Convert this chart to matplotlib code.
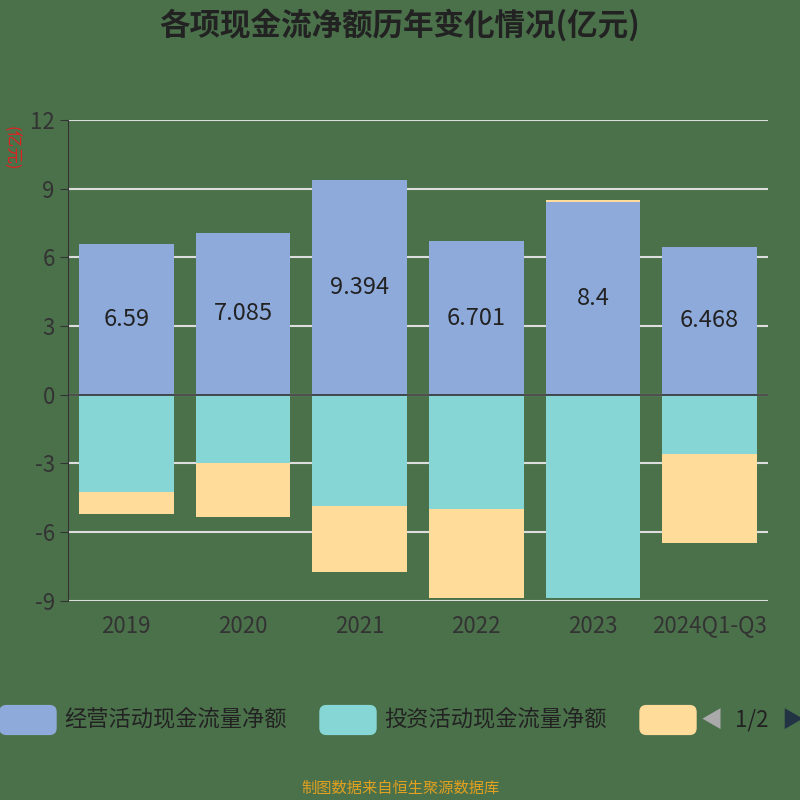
import matplotlib.pyplot as plt
import numpy as np
from matplotlib.patches import FancyBboxPatch

plt.rcParams['font.family'] = 'sans-serif'
plt.rcParams['font.sans-serif'] = ['Noto Sans CJK SC', 'Noto Sans CJK JP', 'Noto Sans CJK TC', 'DejaVu Sans']
plt.rcParams['axes.unicode_minus'] = False

years = ['2019', '2020', '2021', '2022', '2023', '2024Q1-Q3']
operating = [6.59, 7.085, 9.394, 6.701, 8.4, 6.468]
investing = [-4.25, -2.98, -4.86, -4.99, -8.89, -2.58]
financing = [-0.95, -2.36, -2.89, -3.9, 0.1, -3.9]

bg = '#4b714b'
c_op, c_inv, c_fin = '#8eaadb', '#86d6d6', '#ffdc9a'

fig = plt.figure(figsize=(8, 8), dpi=100, facecolor=bg)
ax = fig.add_axes([0.085, 0.249, 0.875, 0.601], facecolor=bg)

x = np.arange(len(years))
w = 0.81
ax.bar(x, operating, w, color=c_op, zorder=3)
ax.bar(x, investing, w, color=c_inv, zorder=3)
fin_bottom = [o if f > 0 else i for o, i, f in zip(operating, investing, financing)]
ax.bar(x, financing, w, bottom=fin_bottom, color=c_fin, zorder=3)

for xi, v in zip(x, operating):
    ax.text(xi, v / 2, f'{v:g}', ha='center', va='center', fontsize=17, color='#222222', zorder=4)

ax.set_xlim(-0.5, len(years) - 0.5)
ax.set_ylim(-9, 12)
ax.set_yticks(range(-9, 13, 3))
ax.yaxis.grid(True, color='#dddddd', lw=1.5, zorder=0)
ax.set_xticks(x)
ax.set_xticklabels(years)
ax.tick_params(axis='y', labelsize=16, colors='#333333', length=6)
ax.tick_params(axis='x', labelsize=16, colors='#333333', length=0, pad=10)
for s in ['top', 'right', 'bottom']:
    ax.spines[s].set_visible(False)
ax.spines['left'].set_color('#333333')
ax.axhline(0, color='#333333', lw=1.2, zorder=5)
fig.text(0.002, 0.815, '(亿元)', color='#e02020', fontsize=12, rotation=270, ha='left', va='center')

fig.text(0.5, 0.968, '各项现金流净额历年变化情况(亿元)', ha='center', va='center',
         fontsize=22, fontweight='bold', color='#222222')

# legend row
ly = 0.082
items = [(0.0, c_op, '经营活动现金流量净额'), (0.40, c_inv, '投资活动现金流量净额'), (0.80, c_fin, '')]
for xs, c, t in items:
    fig.patches.append(FancyBboxPatch((xs, ly), 0.07, 0.036, boxstyle='round,pad=0,rounding_size=0.008',
                                      transform=fig.transFigure, color=c))
    if t:
        fig.text(xs + 0.08, ly + 0.018, t, va='center', fontsize=16, color='#222222')
fig.text(0.89, ly + 0.018, '◀', va='center', ha='center', fontsize=16, color='#aaaaaa')
fig.text(0.94, ly + 0.018, '1/2', va='center', ha='center', fontsize=16, color='#222222')
fig.text(0.99, ly + 0.018, '▶', va='center', ha='center', fontsize=16, color='#223344')

fig.text(0.5, 0.015, '制图数据来自恒生聚源数据库', ha='center', va='center', fontsize=11, color='#e0a020')

fig.savefig('out.png', dpi=100, facecolor=bg)
